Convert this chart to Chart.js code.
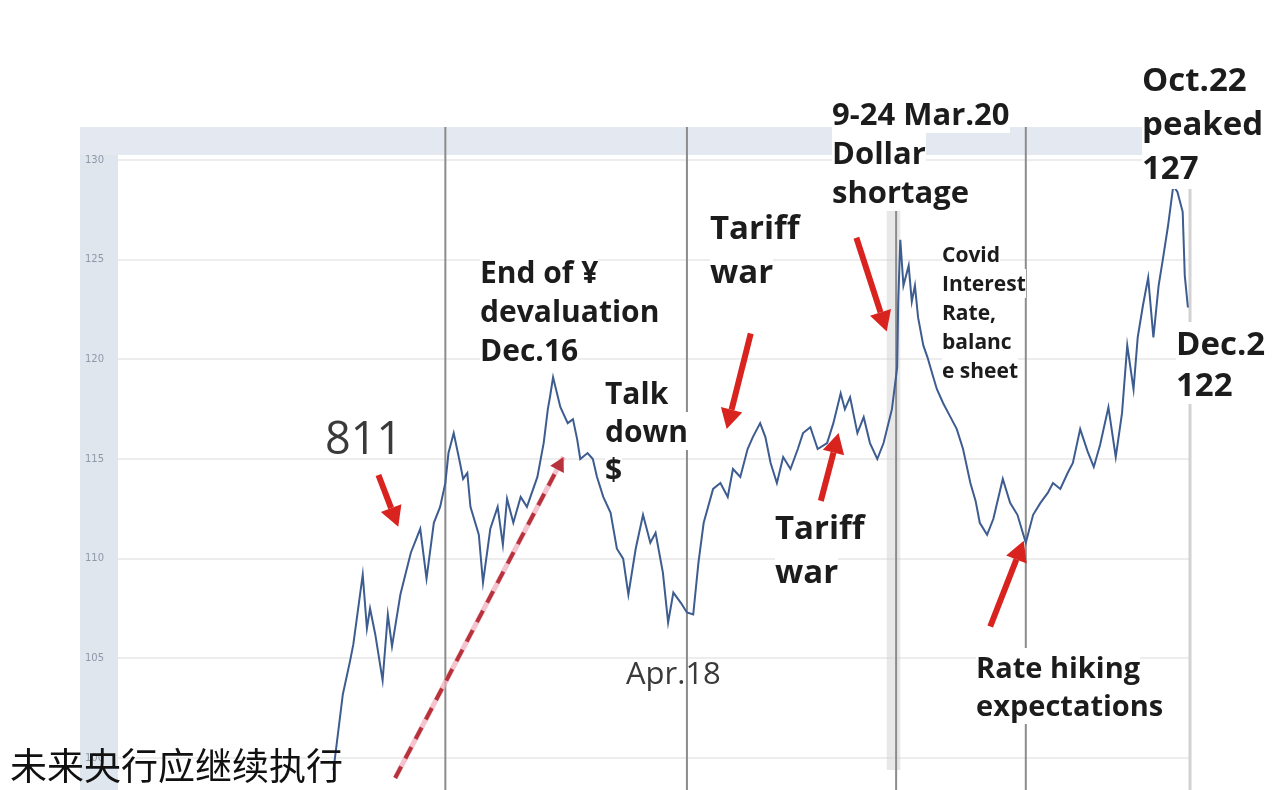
<!DOCTYPE html>
<html>
<head>
<meta charset="utf-8">
<script src="https://cdn.jsdelivr.net/npm/chart.js@4.4.0/dist/chart.umd.min.js"></script>
<style>
  html, body { margin: 0; padding: 0; background: #fff; }
  #wrap { position: relative; width: 1288px; height: 790px; overflow: hidden; }
  #chart { position: absolute; left: 0; top: 0; }
  .note { position: absolute; font-family: "Open Sans", sans-serif; font-weight: 700; color: #1c1c1c; white-space: nowrap; }
  .note span { display: block; width: fit-content; background: #fff; }
  .thin { font-weight: 400; color: #3a3a3a; }
  .thin span { background: transparent; }
  .cn { position: absolute; left: 10px; top: 746px; font-family: "Noto Sans CJK SC", sans-serif; font-size: 37px; line-height: 37px; color: #111; white-space: nowrap; }
</style>
</head>
<body>
<div id="wrap">
  <canvas id="chart" width="1288" height="790"></canvas>
  <div class="note thin" style="left:325px;top:412px;font-size:45px;line-height:50px"><span>811</span></div>
  <div class="note" style="left:480px;top:252px;font-size:30px;line-height:39px"><span>End of ¥</span><span>devaluation</span><span>Dec.16</span></div>
  <div class="note" style="left:605px;top:374px;font-size:30px;line-height:38px"><span>Talk</span><span>down</span><span>$</span></div>
  <div class="note" style="left:710px;top:205px;font-size:33px;line-height:44px"><span>Tariff</span><span>war</span></div>
  <div class="note" style="left:775px;top:505px;font-size:33px;line-height:44px"><span>Tariff</span><span>war</span></div>
  <div class="note" style="left:832px;top:94px;font-size:31px;line-height:39px"><span>9-24 Mar.20</span><span>Dollar</span><span>shortage</span></div>
  <div class="note" style="left:942px;top:240px;font-size:21px;line-height:29px"><span>Covid</span><span>Interest</span><span>Rate,</span><span>balanc</span><span>e sheet</span></div>
  <div class="note" style="left:1142px;top:57px;font-size:33px;line-height:44px"><span>Oct.22</span><span>peaked</span><span>127</span></div>
  <div class="note" style="left:1176px;top:322px;font-size:33px;line-height:41px"><span>Dec.2</span><span>122</span></div>
  <div class="note thin" style="left:626px;top:652px;font-size:31px;line-height:40px"><span>Apr.18</span></div>
  <div class="note" style="left:976px;top:648px;font-size:29px;line-height:38px"><span>Rate hiking</span><span>expectations</span></div>
  <div class="cn">未来央行应继续执行</div>
</div>
<script>
// time in decimal years, index level
const years = [
  2014.72, 2014.78, 2014.87, 2014.94, 2014.97, 2015.06, 2015.10, 2015.13, 2015.18, 2015.25,
  2015.30, 2015.34, 2015.42, 2015.52, 2015.61, 2015.67, 2015.74, 2015.80, 2015.85, 2015.88,
  2015.93, 2015.99, 2016.02, 2016.06, 2016.09, 2016.17, 2016.21, 2016.28, 2016.35, 2016.40,
  2016.44, 2016.50, 2016.57, 2016.63, 2016.73, 2016.79, 2016.83, 2016.85, 2016.88, 2016.95,
  2017.02, 2017.07, 2017.11, 2017.14, 2017.21, 2017.26, 2017.30, 2017.36, 2017.43, 2017.49,
  2017.55, 2017.60, 2017.67, 2017.74, 2017.81, 2017.86, 2017.93, 2017.98, 2018.03, 2018.10,
  2018.16, 2018.22, 2018.27, 2018.32, 2018.41, 2018.48, 2018.55, 2018.60, 2018.67, 2018.74,
  2018.79, 2018.86, 2018.91, 2018.96, 2019.02, 2019.08, 2019.15, 2019.22, 2019.27, 2019.34,
  2019.41, 2019.50, 2019.56, 2019.63, 2019.67, 2019.72, 2019.79, 2019.85, 2019.91, 2019.98,
  2020.04, 2020.12, 2020.17, 2020.18, 2020.20, 2020.23, 2020.28, 2020.31, 2020.34, 2020.37,
  2020.42, 2020.46, 2020.51, 2020.55, 2020.61, 2020.68, 2020.74, 2020.80, 2020.87, 2020.92,
  2020.96, 2021.03, 2021.09, 2021.18, 2021.25, 2021.32, 2021.40, 2021.47, 2021.54, 2021.61,
  2021.66, 2021.73, 2021.80, 2021.85, 2021.92, 2021.99, 2022.05, 2022.11, 2022.19, 2022.26,
  2022.32, 2022.37, 2022.43, 2022.47, 2022.52, 2022.57, 2022.62, 2022.67, 2022.71, 2022.76,
  2022.81, 2022.85, 2022.90, 2022.92, 2022.95
];
const index = [
  98.8, 99.4, 103.2, 104.9, 105.7, 109.2, 106.5, 107.5, 106.2, 103.9,
  107.2, 105.6, 108.2, 110.3, 111.5, 109.0, 111.8, 112.6, 113.8, 115.3,
  116.3, 114.8, 114.0, 114.3, 112.6, 111.2, 108.8, 111.5, 112.6, 110.7,
  113.0, 111.8, 113.1, 112.6, 114.1, 115.8, 117.5, 118.1, 119.1, 117.6,
  116.8, 117.0, 116.0, 115.0, 115.3, 115.0, 114.1, 113.1, 112.3, 110.5,
  110.0, 108.2, 110.5, 112.2, 110.8, 111.3, 109.3, 106.8, 108.3, 107.8,
  107.3, 107.2, 109.8, 111.8, 113.5, 113.8, 113.1, 114.5, 114.1, 115.5,
  116.1, 116.8, 116.1, 114.8, 113.8, 115.1, 114.5, 115.5, 116.3, 116.6,
  115.5, 115.8, 116.8, 118.3, 117.5, 118.1, 116.3, 117.1, 115.8, 115.0,
  115.8, 117.5, 119.6, 122.9, 126.0, 123.7, 124.7, 122.9, 123.7, 122.1,
  120.7, 120.1, 119.2, 118.5, 117.8, 117.1, 116.5, 115.5, 113.8, 112.9,
  111.8, 111.2, 112.0, 114.0, 112.8, 112.2, 110.8, 112.2, 112.8, 113.3,
  113.8, 113.5, 114.3, 114.8, 116.5, 115.4, 114.6, 115.7, 117.6, 115.1,
  117.3, 120.7, 118.5, 121.1, 122.7, 124.1, 121.1, 123.7, 125.0, 126.7,
  128.7, 128.4, 127.4, 124.2, 122.6
];
const yTicks = [100, 105, 110, 115, 120, 125, 130];

// event markers (decimal years)
const eventLines = [2015.85, 2018.16, 2020.16, 2021.40];
const shortageBand = [2020.07, 2020.20];

// red arrows: [fromYear, fromValue, toYear, toValue]
const arrows = [
  [2015.21, 114.2, 2015.40, 111.6],
  [2018.77, 121.3, 2018.54, 116.5],
  [2019.44, 112.9, 2019.61, 116.3],
  [2019.78, 126.1, 2020.07, 121.4],
  [2021.06, 106.6, 2021.38, 110.9]
];
const trendArrow = [2015.37, 99.0, 2016.98, 115.1];

var points = years.map(function(t, i) { return {x: t, y: index[i]}; });

var drawArrow = function(ctx, x0, y0, x1, y1, w, head, color, dash) {
  var ang = Math.atan2(y1 - y0, x1 - x0);
  var hx = x1 - head * Math.cos(ang), hy = y1 - head * Math.sin(ang);
  ctx.strokeStyle = color;
  ctx.lineWidth = w;
  ctx.setLineDash(dash || []);
  ctx.beginPath();
  ctx.moveTo(x0, y0);
  ctx.lineTo(hx, hy);
  ctx.stroke();
  ctx.setLineDash([]);
  ctx.fillStyle = color;
  ctx.beginPath();
  ctx.moveTo(x1, y1);
  ctx.lineTo(hx + head * 0.55 * Math.sin(ang), hy - head * 0.55 * Math.cos(ang));
  ctx.lineTo(hx - head * 0.55 * Math.sin(ang), hy + head * 0.55 * Math.cos(ang));
  ctx.closePath();
  ctx.fill();
};

var decor = {
  id: 'decor',
  beforeDraw: function(chart) {
    var ctx = chart.ctx, a = chart.chartArea;
    ctx.save();
    ctx.fillStyle = '#dfe6ee';
    ctx.fillRect(80, 127, a.left - 80, chart.height - 127);
    ctx.fillStyle = '#e4e8f0';
    ctx.fillRect(80, 127, a.right - 80, a.top - 127);
    ctx.restore();
  },
  beforeDatasetsDraw: function(chart) {
    var ctx = chart.ctx, a = chart.chartArea, x = chart.scales.x;
    ctx.save();
    var b0 = x.getPixelForValue(shortageBand[0]), b1 = x.getPixelForValue(shortageBand[1]);
    ctx.fillStyle = 'rgba(205,205,205,0.45)';
    ctx.fillRect(b0, 127, b1 - b0, a.bottom - 127);
    ctx.strokeStyle = '#8c8c8c';
    ctx.lineWidth = 2;
    eventLines.forEach(function(t) {
      var px = x.getPixelForValue(t);
      ctx.beginPath();
      ctx.moveTo(px, 127);
      ctx.lineTo(px, chart.height);
      ctx.stroke();
    });
    ctx.strokeStyle = '#d2d2d2';
    ctx.lineWidth = 3;
    ctx.beginPath();
    ctx.moveTo(a.right, 127);
    ctx.lineTo(a.right, chart.height);
    ctx.stroke();
    ctx.restore();
  },
  afterDatasetsDraw: function(chart) {
    var ctx = chart.ctx, x = chart.scales.x, y = chart.scales.y;
    ctx.save();
    var t = trendArrow;
    var tx0 = x.getPixelForValue(t[0]), ty0 = y.getPixelForValue(t[1]);
    var tx1 = x.getPixelForValue(t[2]), ty1 = y.getPixelForValue(t[3]);
    ctx.strokeStyle = 'rgba(240,170,185,0.7)';
    ctx.lineWidth = 5;
    ctx.beginPath();
    ctx.moveTo(tx0, ty0);
    ctx.lineTo(tx1, ty1);
    ctx.stroke();
    drawArrow(ctx, tx0, ty0, tx1, ty1, 4, 14, '#b8323c', [13, 9]);
    arrows.forEach(function(r) {
      drawArrow(ctx, x.getPixelForValue(r[0]), y.getPixelForValue(r[1]),
        x.getPixelForValue(r[2]), y.getPixelForValue(r[3]), 6, 20, '#d8231f');
    });
    ctx.restore();
  }
};

var myChart = new Chart(document.getElementById('chart'), {
  type: 'line',
  data: {
    datasets: [{
      data: points,
      borderColor: '#3d5c90',
      borderWidth: 2,
      pointRadius: 0,
      tension: 0,
      fill: false
    }]
  },
  options: {
    responsive: false,
    animation: false,
    layout: { padding: { left: 80, top: 155, right: 98, bottom: 12 } },
    plugins: { legend: { display: false }, tooltip: { enabled: false } },
    scales: {
      x: {
        type: 'linear',
        min: 2012.72,
        max: 2022.97,
        display: false
      },
      y: {
        min: 99.4,
        max: 130.25,
        afterBuildTicks: function(scale) {
          scale.ticks = yTicks.map(function(v) { return {value: v}; });
        },
        afterFit: function(scale) { scale.width = 38; },
        border: { display: false },
        grid: { color: '#ededed', lineWidth: 2, drawTicks: false },
        ticks: { padding: 14, color: '#8e99a8', font: { family: 'DejaVu Sans', size: 10 } }
      }
    }
  },
  plugins: [decor]
});
</script>
</body>
</html>
